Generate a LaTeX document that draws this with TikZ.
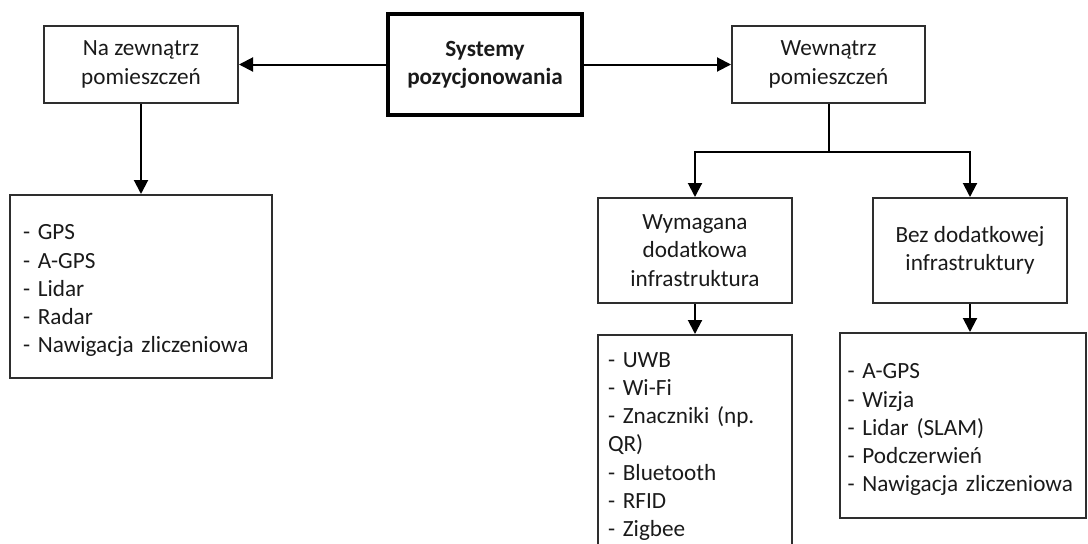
\documentclass[tikz,border=0pt]{standalone}
\usepackage{fontspec}
\setmainfont{Carlito}
\usetikzlibrary{arrows.meta}
\definecolor{ink}{HTML}{1A1A1A}
\definecolor{frame}{HTML}{2E2E2E}
\begin{document}
\begin{tikzpicture}[x=0.75pt,y=-0.75pt,
  every node/.style={font=\fontsize{17.4pt}{21.2pt}\selectfont, text=ink},
  topstrut/.style={execute at begin node={\rule{0pt}{17.7pt}}},
  box/.style={draw=frame, line width=1.5pt, align=center, inner sep=0pt, topstrut},
  mainbox/.style={draw=black, line width=3pt, align=center, inner sep=0pt, topstrut,
    font=\fontsize{17.4pt}{21.2pt}\selectfont\bfseries},
  listbox/.style={draw=frame, line width=1.5pt, align=left, topstrut},
  conn/.style={draw=black, line width=1.5pt},
  arr/.style={conn, -{Triangle[length=10.5pt, width=10.5pt]}}
]
\useasboundingbox (0,0) rectangle (1088,543);
\clip (0,0) rectangle (1088,543);

\node[mainbox, minimum width=145.5pt, minimum height=75.75pt] (sys) at (485,64.5) {Systemy\\pozycjonowania};
\node[box, minimum width=145.5pt, minimum height=57.75pt] (out) at (141,64.5) {Na zewnątrz\\pomieszczeń};
\node[box, minimum width=144.75pt, minimum height=57.75pt] (in) at (828.5,64.5) {Wewnątrz\\pomieszczeń};

\node[listbox, minimum width=196.5pt, minimum height=137.25pt, inner xsep=9.75pt, inner ysep=0pt, text width=177pt] (outlist) at (141,286.5)
  {- GPS\\- A-GPS\\- Lidar\\- Radar\\- Nawigacja zliczeniowa};

\node[box, minimum width=145.5pt, minimum height=78.75pt] (req) at (695,250.5) {Wymagana\\dodatkowa\\infrastruktura};
\node[box, minimum width=145.5pt, minimum height=78.75pt] (noreq) at (970,250.5) {Bez dodatkowej\\infrastruktury};

\node[listbox, anchor=north, inner xsep=7.5pt, inner ysep=6.35pt, text width=130.5pt] (reqlist) at (695,334)
  {- UWB\\- Wi-Fi\\- Znaczniki (np.\\QR)\\- Bluetooth\\- RFID\\- Zigbee};

\node[listbox, minimum width=184.5pt, minimum height=138.75pt, inner xsep=6pt, inner ysep=0pt, text width=172.5pt] (noreqlist) at (962.5,425.5)
  {- A-GPS\\- Wizja\\- Lidar (SLAM)\\- Podczerwień\\- Nawigacja zliczeniowa};

\coordinate (split) at (828.5,152);

\draw[arr] (sys.west) -- (out.east);
\draw[arr] (sys.east) -- (in.west);
\draw[arr] (out.south) -- (outlist.north);
\draw[conn] (in.south) -- (split);
\draw[arr] (split) -| (req.north);
\draw[arr] (split) -| (noreq.north);
\draw[arr] (req.south) -- (reqlist.north);
\draw[arr] (noreq.south) -- (noreq.south |- noreqlist.north);
\end{tikzpicture}
\end{document}
